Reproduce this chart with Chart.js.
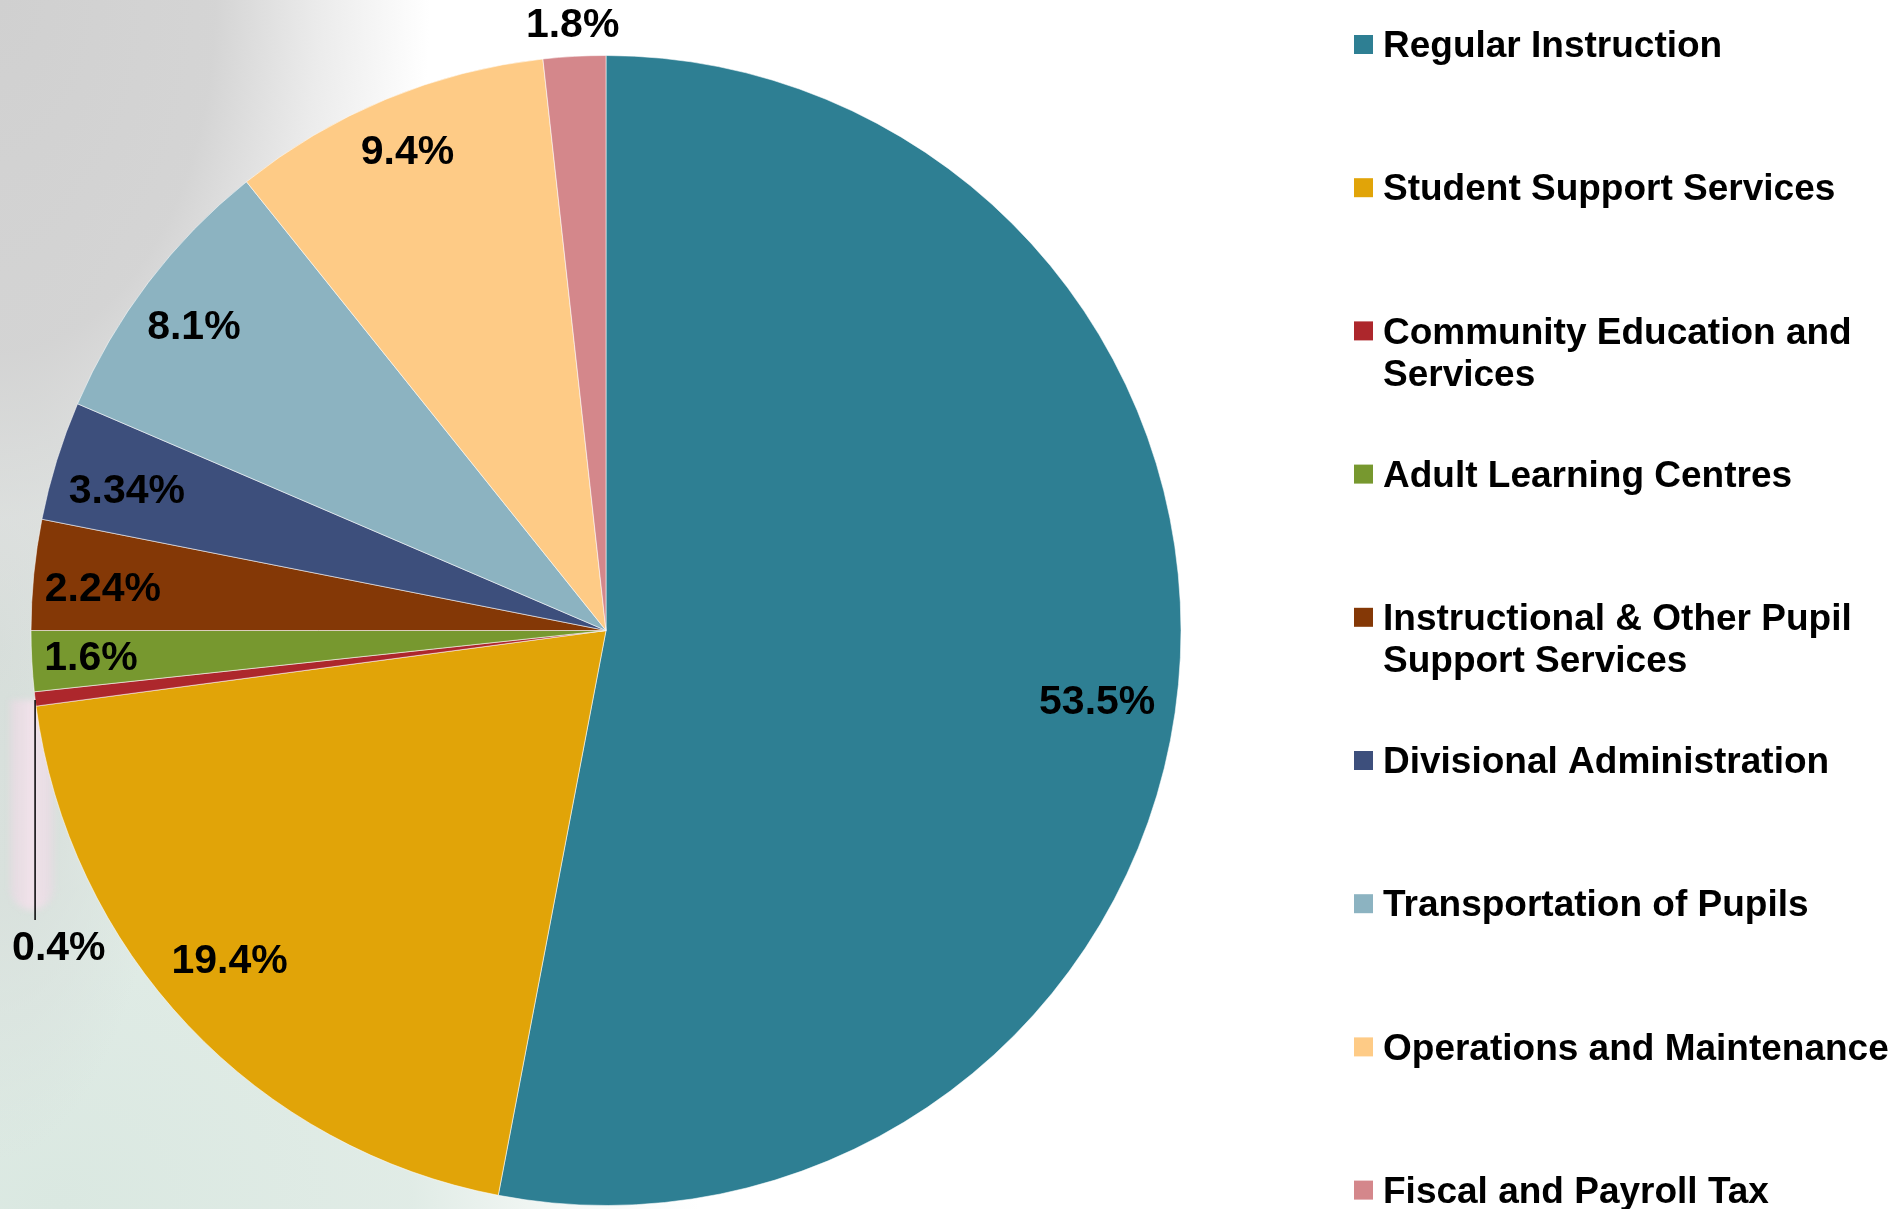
<!DOCTYPE html>
<html>
<head>
<meta charset="utf-8">
<script src="https://cdn.jsdelivr.net/npm/chart.js@4/dist/chart.umd.min.js"></script>
<style>
  html, body { margin: 0; padding: 0; background: #ffffff; overflow: hidden; }
  #wrap { position: relative; width: 1901px; height: 1209px; }
  #bg {
    position: absolute; left: 0; top: 0; width: 1901px; height: 1209px;
    background:
      radial-gradient(ellipse 430px 700px at 0px 0px, rgba(208,208,208,1) 0%, rgba(211,211,211,0.97) 50%, rgba(222,222,222,0.6) 74%, rgba(255,255,255,0) 100%),
      radial-gradient(ellipse 180px 520px at 0px 640px, rgba(214,222,218,1) 0%, rgba(216,224,220,0.9) 50%, rgba(255,255,255,0) 100%),
      radial-gradient(ellipse 640px 580px at 60px 1209px, rgba(218,232,225,1) 0%, rgba(222,234,228,0.92) 55%, rgba(235,242,238,0.5) 80%, rgba(255,255,255,0) 100%),
      #ffffff;
  }
  #pencil {
    position: absolute; left: 10px; top: 700px; width: 44px; height: 210px;
    border-radius: 0 0 22px 22px;
    filter: blur(3px);
    background: linear-gradient(to right, rgba(238,212,228,0.45), rgba(248,226,238,0.8), rgba(238,212,228,0.45));
  }
  canvas { position: absolute; left: 0; top: 0; }
</style>
</head>
<body>
<div id="wrap">
  <div id="bg"></div>
  <div id="pencil"></div>
  <canvas id="c" width="1901" height="1209"></canvas>
</div>
<script>
// ---- Data ----
const categories = [
  "Regular Instruction",
  "Student Support Services",
  "Community Education and Services",
  "Adult Learning Centres",
  "Instructional & Other Pupil Support Services",
  "Divisional Administration",
  "Transportation of Pupils",
  "Operations and Maintenance",
  "Fiscal and Payroll Tax"
];
// slice sizes (percent)
const shares = [53.0, 19.9, 0.4, 1.7, 3.1, 3.35, 7.8, 9.0, 1.75];
// printed data labels
const shareLabels = ["53.5%", "19.4%", "0.4%", "1.6%", "2.24%", "3.34%", "8.1%", "9.4%", "1.8%"];

// ---- Styles ----
const sliceColors = ["#2E7F93", "#E1A408", "#AD272C", "#77982F", "#843806", "#3D4F7C", "#8CB3C1", "#FECB86", "#D4878B"];
const labelRadiusFrac = [0.863, 0.871, null, 0.897, 0.878, 0.868, 0.89, 0.902, 1.056];
const labelAngleShiftDeg = [2.8, 2.1, 0, 0, -0.8, -0.9, -0.9, 0, 0];
const FONT = '"Liberation Sans", Arial, Helvetica, sans-serif';

const sliceLabelPlugin = {
  id: 'sliceLabels',
  afterDatasetsDraw(chart) {
    const ctx = chart.ctx;
    const meta = chart.getDatasetMeta(0);
    ctx.save();
    ctx.fillStyle = '#000000';
    ctx.font = 'bold 41px ' + FONT;
    ctx.textBaseline = 'middle';
    meta.data.forEach((arc, i) => {
      const p = arc.getProps(['x', 'y', 'startAngle', 'endAngle', 'outerRadius'], true);
      const mid = (p.startAngle + p.endAngle) / 2 + labelAngleShiftDeg[i] * Math.PI / 180;
      const frac = labelRadiusFrac[i];
      if (frac === null) {
        const sx = p.x + Math.cos(mid) * p.outerRadius;
        const sy = p.y + Math.sin(mid) * p.outerRadius + 1;
        const ey = sy + 220;
        ctx.strokeStyle = '#000000';
        ctx.lineWidth = 1.5;
        ctx.beginPath();
        ctx.moveTo(sx, sy);
        ctx.lineTo(sx, ey);
        ctx.stroke();
        ctx.textAlign = 'left';
        ctx.fillText(shareLabels[i], sx - 23, ey + 29);
      } else {
        const r = p.outerRadius * frac;
        ctx.textAlign = 'center';
        ctx.fillText(shareLabels[i], p.x + Math.cos(mid) * r, p.y + Math.sin(mid) * r + 1);
      }
    });
    ctx.restore();
  }
};

const legendPlugin = {
  id: 'sideLegend',
  afterDraw(chart) {
    const ctx = chart.ctx;
    const labels = chart.data.labels;
    const colors = chart.data.datasets[0].backgroundColor;
    const boxX = 1354, textX = 1383, box = 19, firstY = 44.5, step = 143.2, lineH = 42, maxW = 515, textDy = 2.5;
    ctx.save();
    ctx.font = 'bold 37px ' + FONT;
    ctx.textBaseline = 'middle';
    ctx.textAlign = 'left';
    labels.forEach((lab, i) => {
      const cy = firstY + step * i;
      ctx.fillStyle = colors[i];
      ctx.fillRect(boxX, cy - box / 2, box, box);
      const words = lab.split(' ');
      const lines = [];
      let cur = '';
      words.forEach(w => {
        const t = cur ? cur + ' ' + w : w;
        if (ctx.measureText(t).width > maxW && cur) { lines.push(cur); cur = w; }
        else cur = t;
      });
      if (cur) lines.push(cur);
      ctx.fillStyle = '#000000';
      lines.forEach((ln, k) => ctx.fillText(ln, textX, cy + textDy + k * lineH));
    });
    ctx.restore();
  }
};

new Chart(document.getElementById('c'), {
  type: 'pie',
  data: {
    labels: categories,
    datasets: [{
      data: shares,
      backgroundColor: sliceColors,
      borderColor: 'rgba(255,255,255,0.55)',
      borderWidth: 1
    }]
  },
  options: {
    responsive: false,
    animation: false,
    devicePixelRatio: 1,
    layout: { padding: { left: 30, top: 55, right: 719, bottom: 3 } },
    plugins: {
      legend: { display: false },
      tooltip: { enabled: false }
    }
  },
  plugins: [sliceLabelPlugin, legendPlugin]
});
</script>
</body>
</html>
